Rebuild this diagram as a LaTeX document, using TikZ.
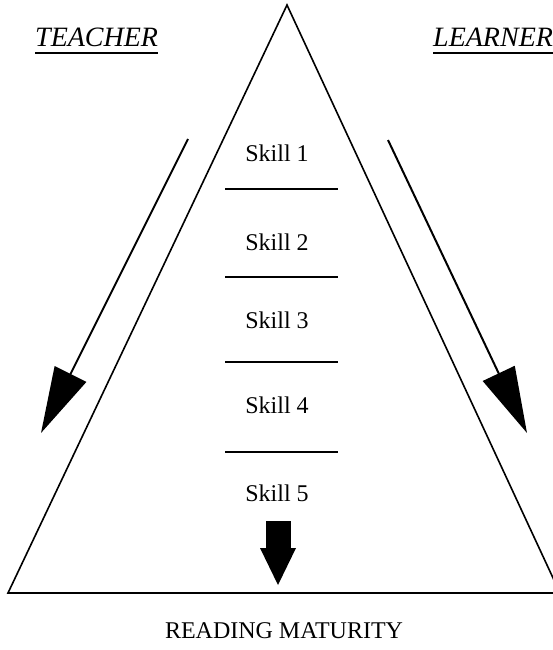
\documentclass[tikz,border=0pt]{standalone}
\usepackage{fontspec}
\setmainfont{Liberation Serif}
\usepackage{tikz}
\usetikzlibrary{arrows.meta}
\tikzset{
  solidline/.style={draw=black, line width=1.6pt},
  rule/.style={draw=black, line width=2pt},
  lab/.style={font=\fontsize{24}{28}\selectfont, inner sep=0pt},
  tag/.style={font=\fontsize{28}{32}\selectfont\itshape, inner sep=0pt},
  bigarrow/.style={draw=black, line width=2pt, -{Triangle[length=66pt,width=35pt]}},
  downarrow/.style={draw=black, line width=25pt, -{Triangle[length=37pt,width=36pt,line width=0pt]}},
}
\begin{document}
\begin{tikzpicture}[x=1pt,y=-1pt]
  \useasboundingbox (0,0) rectangle (553,650);
  \clip (0,0) rectangle (553,650);
  \coordinate (apex) at (287,5);
  \coordinate (baseL) at (8,593);
  \coordinate (baseR) at (560,593);
  \draw[solidline] (apex)--(baseL)--(baseR)--cycle;
  \foreach \i/\y in {1/153,2/242,3/320,4/405,5/493}
    \node[lab] (skill\i) at (277,\y) {Skill \i};
  \foreach \y in {189,277,362,452}
    \draw[rule] (225,\y)--(338,\y);
  \node[tag,anchor=base west] (teacher) at (35,47) {TEACHER};
  \node[tag,anchor=base west] (learner) at (433,47) {LEARNER};
  \draw[rule] ([yshift=-6pt]teacher.base west)--([yshift=-6pt]teacher.base east);
  \draw[rule] ([yshift=-6pt]learner.base west)--([yshift=-6pt]learner.base east);
  \coordinate (T0) at (188,139);
  \coordinate (T1) at (41,433);
  \coordinate (L0) at (388,140);
  \coordinate (L1) at (527,433);
  \draw[bigarrow] (T0)--(T1);
  \draw[bigarrow] (L0)--(L1);
  \coordinate (D0) at (278,521);
  \coordinate (D1) at (278,585);
  \draw[downarrow] (D0)--(D1);
  \node[lab,anchor=base] (goal) at (284,638) {READING MATURITY};
\end{tikzpicture}
\end{document}
